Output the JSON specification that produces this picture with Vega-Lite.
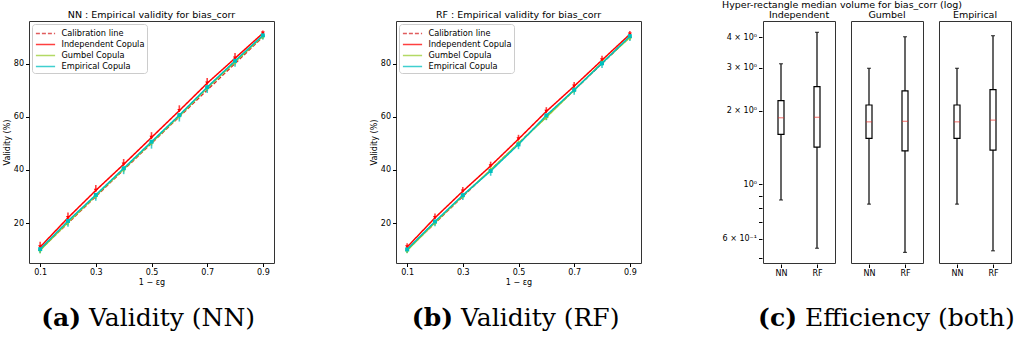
{
  "$schema": "https://vega.github.io/schema/vega-lite/v6.json",
  "padding": {"left": 2, "top": 0, "right": 0, "bottom": 0},
  "background": "white",
  "config": {
    "font": "DejaVu Sans",
    "view": {"stroke": "#333333", "strokeWidth": 1},
    "axis": {"labelFont": "DejaVu Sans", "labelFontSize": 8, "titleFont": "DejaVu Sans", "titleFontSize": 8, "titleFontWeight": "normal", "labelColor": "black", "titleColor": "black", "tickColor": "black", "grid": false, "domain": false, "tickSize": 3.5, "labelPadding": 2, "titlePadding": 2},
    "title": {"font": "DejaVu Sans", "fontSize": 9.5, "fontWeight": "normal", "color": "black", "offset": 2},
    "header": {"labelFont": "DejaVu Sans", "labelFontSize": 9.5, "labelColor": "black", "labelPadding": 1},
    "legend": {"orient": "top-left", "offset": 3, "padding": 2.5, "strokeColor": "#cccccc", "fillColor": "white", "cornerRadius": 3, "labelFont": "DejaVu Sans", "labelFontSize": 8.2, "labelColor": "black", "labelOffset": 9, "symbolOffset": 4, "symbolType": "M-1.6,0H1.6", "symbolSize": 144, "symbolStrokeWidth": 1.6, "rowPadding": 0, "title": null}
  },
  "datasets": {
    "calib": [
      {"series": "Calibration line", "x": 0.1, "v": 10},
      {"series": "Calibration line", "x": 0.2, "v": 20},
      {"series": "Calibration line", "x": 0.3, "v": 30},
      {"series": "Calibration line", "x": 0.4, "v": 40},
      {"series": "Calibration line", "x": 0.5, "v": 50},
      {"series": "Calibration line", "x": 0.6, "v": 60},
      {"series": "Calibration line", "x": 0.7, "v": 70},
      {"series": "Calibration line", "x": 0.8, "v": 80},
      {"series": "Calibration line", "x": 0.9, "v": 90}
    ],
    "validity": [
      {"model": "NN", "series": "Independent Copula", "x": 0.1, "v": 11.0, "lo": 10.6, "hi": 13.0},
      {"model": "NN", "series": "Independent Copula", "x": 0.2, "v": 22.0, "lo": 21.6, "hi": 24.0},
      {"model": "NN", "series": "Independent Copula", "x": 0.3, "v": 32.3, "lo": 31.9, "hi": 34.3},
      {"model": "NN", "series": "Independent Copula", "x": 0.4, "v": 42.1, "lo": 41.7, "hi": 44.1},
      {"model": "NN", "series": "Independent Copula", "x": 0.5, "v": 52.2, "lo": 51.8, "hi": 54.2},
      {"model": "NN", "series": "Independent Copula", "x": 0.6, "v": 62.3, "lo": 61.9, "hi": 64.3},
      {"model": "NN", "series": "Independent Copula", "x": 0.7, "v": 72.6, "lo": 72.2, "hi": 74.6},
      {"model": "NN", "series": "Independent Copula", "x": 0.8, "v": 82.0, "lo": 81.6, "hi": 84.0},
      {"model": "NN", "series": "Independent Copula", "x": 0.9, "v": 91.4, "lo": 91.0, "hi": 92.4},
      {"model": "NN", "series": "Gumbel Copula", "x": 0.1, "v": 9.8, "lo": 8.6, "hi": 10.8},
      {"model": "NN", "series": "Gumbel Copula", "x": 0.2, "v": 20.3, "lo": 19.1, "hi": 21.3},
      {"model": "NN", "series": "Gumbel Copula", "x": 0.3, "v": 30.3, "lo": 29.1, "hi": 31.3},
      {"model": "NN", "series": "Gumbel Copula", "x": 0.4, "v": 40.3, "lo": 39.1, "hi": 41.3},
      {"model": "NN", "series": "Gumbel Copula", "x": 0.5, "v": 50.3, "lo": 49.1, "hi": 51.3},
      {"model": "NN", "series": "Gumbel Copula", "x": 0.6, "v": 60.3, "lo": 59.1, "hi": 61.3},
      {"model": "NN", "series": "Gumbel Copula", "x": 0.7, "v": 70.8, "lo": 69.6, "hi": 71.8},
      {"model": "NN", "series": "Gumbel Copula", "x": 0.8, "v": 80.6, "lo": 79.4, "hi": 81.6},
      {"model": "NN", "series": "Gumbel Copula", "x": 0.9, "v": 90.3, "lo": 89.1, "hi": 91.3},
      {"model": "NN", "series": "Empirical Copula", "x": 0.1, "v": 10.2, "lo": 8.8, "hi": 10.6},
      {"model": "NN", "series": "Empirical Copula", "x": 0.2, "v": 20.8, "lo": 18.6, "hi": 21.2},
      {"model": "NN", "series": "Empirical Copula", "x": 0.3, "v": 30.6, "lo": 28.4, "hi": 31.0},
      {"model": "NN", "series": "Empirical Copula", "x": 0.4, "v": 40.6, "lo": 38.4, "hi": 41.0},
      {"model": "NN", "series": "Empirical Copula", "x": 0.5, "v": 50.6, "lo": 48.0, "hi": 51.0},
      {"model": "NN", "series": "Empirical Copula", "x": 0.6, "v": 60.6, "lo": 58.2, "hi": 61.0},
      {"model": "NN", "series": "Empirical Copula", "x": 0.7, "v": 71.1, "lo": 68.9, "hi": 71.5},
      {"model": "NN", "series": "Empirical Copula", "x": 0.8, "v": 81.0, "lo": 78.8, "hi": 81.4},
      {"model": "NN", "series": "Empirical Copula", "x": 0.9, "v": 90.6, "lo": 89.0, "hi": 91.0},
      {"model": "RF", "series": "Independent Copula", "x": 0.1, "v": 11.0, "lo": 10.6, "hi": 12.4},
      {"model": "RF", "series": "Independent Copula", "x": 0.2, "v": 22.0, "lo": 21.6, "hi": 23.6},
      {"model": "RF", "series": "Independent Copula", "x": 0.3, "v": 32.0, "lo": 31.6, "hi": 33.6},
      {"model": "RF", "series": "Independent Copula", "x": 0.4, "v": 41.5, "lo": 41.1, "hi": 43.1},
      {"model": "RF", "series": "Independent Copula", "x": 0.5, "v": 51.6, "lo": 51.2, "hi": 53.2},
      {"model": "RF", "series": "Independent Copula", "x": 0.6, "v": 62.0, "lo": 61.6, "hi": 63.6},
      {"model": "RF", "series": "Independent Copula", "x": 0.7, "v": 71.5, "lo": 71.1, "hi": 73.1},
      {"model": "RF", "series": "Independent Copula", "x": 0.8, "v": 81.3, "lo": 80.9, "hi": 82.9},
      {"model": "RF", "series": "Independent Copula", "x": 0.9, "v": 91.0, "lo": 90.6, "hi": 92.2},
      {"model": "RF", "series": "Gumbel Copula", "x": 0.1, "v": 9.7, "lo": 8.7, "hi": 10.7},
      {"model": "RF", "series": "Gumbel Copula", "x": 0.2, "v": 20.2, "lo": 19.2, "hi": 21.2},
      {"model": "RF", "series": "Gumbel Copula", "x": 0.3, "v": 30.3, "lo": 29.3, "hi": 31.3},
      {"model": "RF", "series": "Gumbel Copula", "x": 0.4, "v": 40.0, "lo": 39.0, "hi": 41.0},
      {"model": "RF", "series": "Gumbel Copula", "x": 0.5, "v": 50.0, "lo": 49.0, "hi": 51.0},
      {"model": "RF", "series": "Gumbel Copula", "x": 0.6, "v": 59.8, "lo": 58.8, "hi": 60.8},
      {"model": "RF", "series": "Gumbel Copula", "x": 0.7, "v": 70.0, "lo": 69.0, "hi": 71.0},
      {"model": "RF", "series": "Gumbel Copula", "x": 0.8, "v": 80.3, "lo": 79.3, "hi": 81.3},
      {"model": "RF", "series": "Gumbel Copula", "x": 0.9, "v": 89.8, "lo": 88.8, "hi": 90.8},
      {"model": "RF", "series": "Empirical Copula", "x": 0.1, "v": 10.1, "lo": 8.8, "hi": 10.5},
      {"model": "RF", "series": "Empirical Copula", "x": 0.2, "v": 20.6, "lo": 18.8, "hi": 21.0},
      {"model": "RF", "series": "Empirical Copula", "x": 0.3, "v": 30.5, "lo": 28.7, "hi": 30.9},
      {"model": "RF", "series": "Empirical Copula", "x": 0.4, "v": 39.6, "lo": 37.8, "hi": 40.0},
      {"model": "RF", "series": "Empirical Copula", "x": 0.5, "v": 49.6, "lo": 47.8, "hi": 50.0},
      {"model": "RF", "series": "Empirical Copula", "x": 0.6, "v": 60.5, "lo": 58.7, "hi": 60.9},
      {"model": "RF", "series": "Empirical Copula", "x": 0.7, "v": 70.1, "lo": 68.3, "hi": 70.5},
      {"model": "RF", "series": "Empirical Copula", "x": 0.8, "v": 80.1, "lo": 78.3, "hi": 80.5},
      {"model": "RF", "series": "Empirical Copula", "x": 0.9, "v": 90.3, "lo": 88.5, "hi": 90.7}
    ],
    "volume": [
      {"copula": "Independent", "model": "NN", "lo": 0.863, "q1": 1.60, "med": 1.87, "q3": 2.20, "hi": 3.11},
      {"copula": "Independent", "model": "RF", "lo": 0.548, "q1": 1.42, "med": 1.88, "q3": 2.51, "hi": 4.18},
      {"copula": "Gumbel", "model": "NN", "lo": 0.83, "q1": 1.54, "med": 1.80, "q3": 2.11, "hi": 2.98},
      {"copula": "Gumbel", "model": "RF", "lo": 0.527, "q1": 1.37, "med": 1.81, "q3": 2.41, "hi": 4.01},
      {"copula": "Empirical", "model": "NN", "lo": 0.83, "q1": 1.54, "med": 1.80, "q3": 2.11, "hi": 2.98},
      {"copula": "Empirical", "model": "RF", "lo": 0.535, "q1": 1.38, "med": 1.83, "q3": 2.44, "hi": 4.05}
    ],
    "captions": [
      {"panel": "a", "tag": "(a)", "label": "Validity (NN)"},
      {"panel": "b", "tag": "(b)", "label": "Validity (RF)"},
      {"panel": "c", "tag": "(c)", "label": "Efficiency (both)"}
    ]
  },
  "vconcat": [
    {
      "hconcat": [
        {
          "width": 245, "height": 242,
          "title": {"text": "NN : Empirical validity for bias_corr"},
          "layer": [
            {
              "data": {"name": "calib"},
              "mark": {"type": "line", "strokeWidth": 1.3},
              "encoding": {
                "x": {"field": "x", "type": "quantitative", "scale": {"domain": [0.06, 0.94], "nice": false, "zero": false}, "axis": {"values": [0.1, 0.2, 0.3, 0.4, 0.5, 0.6, 0.7, 0.8, 0.9], "format": ".1f", "title": "1 − εg"}},
                "y": {"field": "v", "type": "quantitative", "scale": {"domain": [5, 96], "nice": false, "zero": false}, "axis": {"values": [20, 40, 60, 80], "title": "Validity (%)"}},
                "color": {"field": "series", "type": "nominal", "scale": {"domain": ["Calibration line", "Independent Copula", "Gumbel Copula", "Empirical Copula"], "range": ["#d62728", "#ff0000", "#9acd32", "#00bfbf"]}, "legend": {"symbolType": "M-1.6,0H1.6"}},
                "strokeDash": {"field": "series", "type": "nominal", "scale": {"domain": ["Calibration line", "Independent Copula", "Gumbel Copula", "Empirical Copula"], "range": [[4, 2], [1, 0], [1, 0], [1, 0]]}}
              }
            },
            {
              "data": {"name": "validity"},
              "transform": [{"filter": "datum.model === 'NN'"}],
              "mark": {"type": "rule", "strokeWidth": 1.6, "opacity": 0.75},
              "encoding": {
                "x": {"field": "x", "type": "quantitative"},
                "y": {"field": "lo", "type": "quantitative", "axis": {"values": [20, 40, 60, 80], "title": "Validity (%)"}},
                "y2": {"field": "hi"},
                "color": {"field": "series", "type": "nominal"}
              }
            },
            {
              "data": {"name": "validity"},
              "transform": [{"filter": "datum.model === 'NN'"}],
              "mark": {"type": "line", "strokeWidth": 1.5},
              "encoding": {
                "x": {"field": "x", "type": "quantitative"},
                "y": {"field": "v", "type": "quantitative", "axis": {"values": [20, 40, 60, 80], "title": "Validity (%)"}},
                "color": {"field": "series", "type": "nominal"},
                "strokeDash": {"field": "series", "type": "nominal"}
              }
            },
            {
              "data": {"name": "validity"},
              "transform": [{"filter": "datum.model === 'NN'"}],
              "mark": {"type": "point", "filled": true, "size": 16, "opacity": 1},
              "encoding": {
                "x": {"field": "x", "type": "quantitative"},
                "y": {"field": "v", "type": "quantitative", "axis": {"values": [20, 40, 60, 80], "title": "Validity (%)"}},
                "color": {"field": "series", "type": "nominal"},
                "shape": {"field": "series", "type": "nominal", "scale": {"domain": ["Independent Copula", "Gumbel Copula", "Empirical Copula"], "range": ["triangle-down", "cross", "square"]}, "legend": null}
              }
            }
          ]
        },
        {
          "width": 245, "height": 242,
          "title": {"text": "RF : Empirical validity for bias_corr"},
          "layer": [
            {
              "data": {"name": "calib"},
              "mark": {"type": "line", "strokeWidth": 1.3},
              "encoding": {
                "x": {"field": "x", "type": "quantitative", "scale": {"domain": [0.06, 0.94], "nice": false, "zero": false}, "axis": {"values": [0.1, 0.2, 0.3, 0.4, 0.5, 0.6, 0.7, 0.8, 0.9], "format": ".1f", "title": "1 − εg"}},
                "y": {"field": "v", "type": "quantitative", "scale": {"domain": [5, 96], "nice": false, "zero": false}, "axis": {"values": [20, 40, 60, 80], "title": "Validity (%)"}},
                "color": {"field": "series", "type": "nominal", "scale": {"domain": ["Calibration line", "Independent Copula", "Gumbel Copula", "Empirical Copula"], "range": ["#d62728", "#ff0000", "#9acd32", "#00bfbf"]}, "legend": {"symbolType": "M-1.6,0H1.6"}},
                "strokeDash": {"field": "series", "type": "nominal", "scale": {"domain": ["Calibration line", "Independent Copula", "Gumbel Copula", "Empirical Copula"], "range": [[4, 2], [1, 0], [1, 0], [1, 0]]}}
              }
            },
            {
              "data": {"name": "validity"},
              "transform": [{"filter": "datum.model === 'RF'"}],
              "mark": {"type": "rule", "strokeWidth": 1.6, "opacity": 0.75},
              "encoding": {
                "x": {"field": "x", "type": "quantitative"},
                "y": {"field": "lo", "type": "quantitative", "axis": {"values": [20, 40, 60, 80], "title": "Validity (%)"}},
                "y2": {"field": "hi"},
                "color": {"field": "series", "type": "nominal"}
              }
            },
            {
              "data": {"name": "validity"},
              "transform": [{"filter": "datum.model === 'RF'"}],
              "mark": {"type": "line", "strokeWidth": 1.5},
              "encoding": {
                "x": {"field": "x", "type": "quantitative"},
                "y": {"field": "v", "type": "quantitative", "axis": {"values": [20, 40, 60, 80], "title": "Validity (%)"}},
                "color": {"field": "series", "type": "nominal"},
                "strokeDash": {"field": "series", "type": "nominal"}
              }
            },
            {
              "data": {"name": "validity"},
              "transform": [{"filter": "datum.model === 'RF'"}],
              "mark": {"type": "point", "filled": true, "size": 16, "opacity": 1},
              "encoding": {
                "x": {"field": "x", "type": "quantitative"},
                "y": {"field": "v", "type": "quantitative", "axis": {"values": [20, 40, 60, 80], "title": "Validity (%)"}},
                "color": {"field": "series", "type": "nominal"},
                "shape": {"field": "series", "type": "nominal", "scale": {"domain": ["Independent Copula", "Gumbel Copula", "Empirical Copula"], "range": ["triangle-down", "cross", "square"]}, "legend": null}
              }
            }
          ]
        },
        {
          "data": {"name": "volume"},
          "title": {"text": "Hyper-rectangle median volume for bias_corr (log)", "offset": 0},
          "facet": {"column": {"field": "copula", "type": "nominal", "sort": ["Independent", "Gumbel", "Empirical"], "title": null}},
          "spacing": 14,
          "spec": {
            "width": 72, "height": 242,
            "layer": [
              {
                "mark": {"type": "rule", "color": "black", "strokeWidth": 1.2},
                "encoding": {
                  "x": {"field": "model", "type": "nominal", "scale": {"type": "point", "padding": 0.5}, "axis": {"title": null, "labelAngle": 0}},
                  "y": {"field": "lo", "type": "quantitative", "scale": {"type": "log", "domain": [0.477, 4.65], "nice": false}, "axis": {"title": null, "values": [0.5, 0.6, 0.7, 0.8, 0.9, 1, 2, 3, 4], "labelExpr": "datum.value == 4 ? '4 × 10⁰' : datum.value == 3 ? '3 × 10⁰' : datum.value == 2 ? '2 × 10⁰' : datum.value == 1 ? '10⁰' : datum.value == 0.6 ? '6 × 10⁻¹' : ''"}},
                  "y2": {"field": "hi"}
                }
              },
              {
                "mark": {"type": "bar", "fill": "white", "stroke": "black", "strokeWidth": 1.2, "size": 6},
                "encoding": {
                  "x": {"field": "model", "type": "nominal"},
                  "y": {"field": "q1", "type": "quantitative"},
                  "y2": {"field": "q3"}
                }
              },
              {
                "mark": {"type": "tick", "color": "#e8302a", "size": 6, "thickness": 1},
                "encoding": {
                  "x": {"field": "model", "type": "nominal"},
                  "y": {"field": "med", "type": "quantitative"}
                }
              },
              {
                "mark": {"type": "tick", "color": "black", "size": 4, "thickness": 1.2},
                "encoding": {
                  "x": {"field": "model", "type": "nominal"},
                  "y": {"field": "lo", "type": "quantitative"}
                }
              },
              {
                "mark": {"type": "tick", "color": "black", "size": 4, "thickness": 1.2},
                "encoding": {
                  "x": {"field": "model", "type": "nominal"},
                  "y": {"field": "hi", "type": "quantitative"}
                }
              }
            ]
          }
        }
      ],
      "bounds": "flush",
      "spacing": 122,
      "resolve": {
        "scale": {"x": "independent", "y": "independent", "color": "independent", "strokeDash": "independent", "shape": "independent"},
        "legend": {"color": "independent", "strokeDash": "independent", "shape": "independent"}
      }
    },
    {
      "hconcat": [
        {
          "width": 234, "height": 40, "view": {"stroke": null},
          "data": {"name": "captions"},
          "transform": [{"filter": "datum.panel === 'a'"}],
          "layer": [
            {"mark": {"type": "text", "align": "right", "baseline": "middle", "dx": -65, "font": "DejaVu Serif", "fontSize": 25, "fontWeight": "bold", "color": "black"}, "encoding": {"text": {"field": "tag"}}},
            {"mark": {"type": "text", "align": "left", "baseline": "middle", "dx": -57, "font": "DejaVu Serif", "fontSize": 25, "color": "black"}, "encoding": {"text": {"field": "label"}}}
          ]
        },
        {
          "width": 506, "height": 40, "view": {"stroke": null},
          "data": {"name": "captions"},
          "transform": [{"filter": "datum.panel === 'b'"}],
          "layer": [
            {"mark": {"type": "text", "align": "right", "baseline": "middle", "dx": -63, "font": "DejaVu Serif", "fontSize": 25, "fontWeight": "bold", "color": "black"}, "encoding": {"text": {"field": "tag"}}},
            {"mark": {"type": "text", "align": "left", "baseline": "middle", "dx": -55, "font": "DejaVu Serif", "fontSize": 25, "color": "black"}, "encoding": {"text": {"field": "label"}}}
          ]
        },
        {
          "width": 224, "height": 40, "view": {"stroke": null},
          "data": {"name": "captions"},
          "transform": [{"filter": "datum.panel === 'c'"}],
          "layer": [
            {"mark": {"type": "text", "align": "right", "baseline": "middle", "dx": -84, "font": "DejaVu Serif", "fontSize": 25, "fontWeight": "bold", "color": "black"}, "encoding": {"text": {"field": "tag"}}},
            {"mark": {"type": "text", "align": "left", "baseline": "middle", "dx": -76, "font": "DejaVu Serif", "fontSize": 25, "color": "black"}, "encoding": {"text": {"field": "label"}}}
          ]
        }
      ],
      "spacing": 0,
      "bounds": "flush"
    }
  ],
  "spacing": 11
}
